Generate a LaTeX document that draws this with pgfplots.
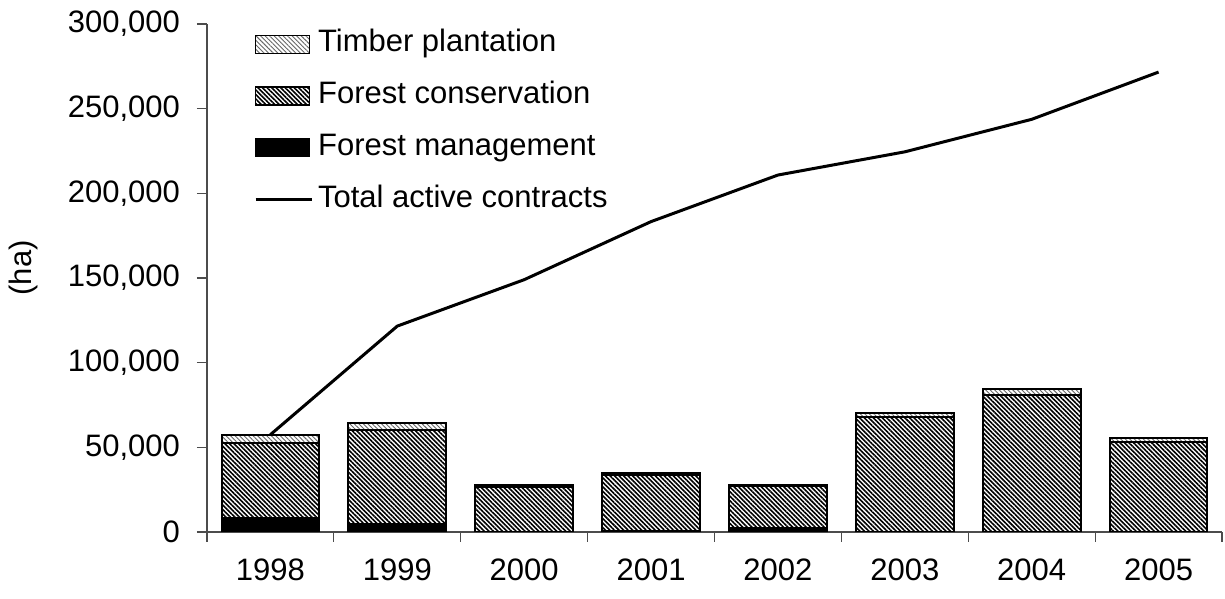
\documentclass[border=0pt]{standalone}
\usepackage{fontspec}
\setmainfont{Liberation Sans}
\usepackage{pgfplots}
\pgfplotsset{compat=1.18}
\usetikzlibrary{patterns.meta}
\pgfplotstableread{
x mgmt cons timber total
0 8300 44300 4900 57500
1 4900 55500 4200 121600
2 0 26700 900 149000
3 800 33000 900 183300
4 2500 24400 1000 210800
5 0 67900 2400 224500
6 0 80700 3700 243700
7 0 53100 2700 271600
}\datatable
\tikzset{
  consfill/.style={pattern={Lines[angle=-45,distance=1.6pt,line width=0.8pt]},pattern color=black},
  timberfill/.style={pattern={Lines[angle=-45,distance=1.6pt,line width=0.45pt]},pattern color=black!60},
}
\begin{document}
\begin{tikzpicture}
\pgfplotsset{
  common/.style={
    at={(0,0)}, anchor=south west,
    scale only axis, width=507.5pt, height=254pt,
    xmin=-0.5, xmax=7.5, ymin=0, ymax=300000,
  }
}
\begin{axis}[
  common,
  ybar stacked, bar width=0.77,
  axis x line*=bottom, axis y line*=left,
  axis line style={-, black!70, line width=0.6pt},
  xtick={0,...,7}, xticklabels={1998,1999,2000,2001,2002,2003,2004,2005},
  major x tick style={draw=none},
  minor xtick={-0.5,0.5,...,7.5},
  ytick={0,50000,...,300000},
  tick align=outside, major tick length=5pt, minor tick length=5pt,
  every tick/.style={black!70, line width=0.6pt},
  scaled y ticks=false,
  yticklabel style={/pgf/number format/fixed, /pgf/number format/1000 sep={,}, /pgf/number format/assume math mode=true, xshift=-5pt},
  tick label style={font=\fontsize{15.5}{18}\selectfont},
  xticklabel style={yshift=-5pt},
  ylabel={(ha)},
  ylabel style={font=\fontsize{15.5}{18}\selectfont, at={(axis description cs:-0.181,0.52)}, anchor=center},
]
\addplot[draw=black, line width=1pt, fill=black] table[x=x,y=mgmt]{\datatable};
\addplot[draw=black, line width=1pt, consfill] table[x=x,y=cons]{\datatable};
\addplot[draw=black, line width=1pt, timberfill] table[x=x,y=timber]{\datatable};
\end{axis}
\begin{axis}[
  common, hide axis,
  legend cell align=left,
  legend style={draw=none, fill=none, at={(axis description cs:0.046,1)}, anchor=north west,
    font=\fontsize{15.5}{18}\selectfont, inner sep=0pt, row sep=6pt, column sep=0pt,
    nodes={text height=11.3pt, text depth=3.6pt, inner sep=2.5pt}},
]
\addlegendimage{legend image code/.code={\draw[draw=black,line width=0.6pt,timberfill] (0pt,-4.5pt) rectangle (27pt,4.5pt);}}
\addlegendentry{Timber plantation}
\addlegendimage{legend image code/.code={\draw[draw=black,line width=0.6pt,consfill] (0pt,-4.5pt) rectangle (27pt,4.5pt);}}
\addlegendentry{Forest conservation}
\addlegendimage{legend image code/.code={\draw[draw=black,line width=0.6pt,fill=black] (0pt,-4.5pt) rectangle (27pt,4.5pt);}}
\addlegendentry{Forest management}
\addlegendimage{legend image code/.code={\draw[black,line width=1.5pt] (0pt,0pt) -- (28pt,0pt);}}
\addlegendentry{Total active contracts}
\addplot[black, line width=1.5pt, mark=none] table[x=x,y=total]{\datatable};
\end{axis}
\pgfresetboundingbox
\useasboundingbox (-103.5pt,-33.5pt) rectangle (509pt,266pt);
\end{tikzpicture}
\end{document}
